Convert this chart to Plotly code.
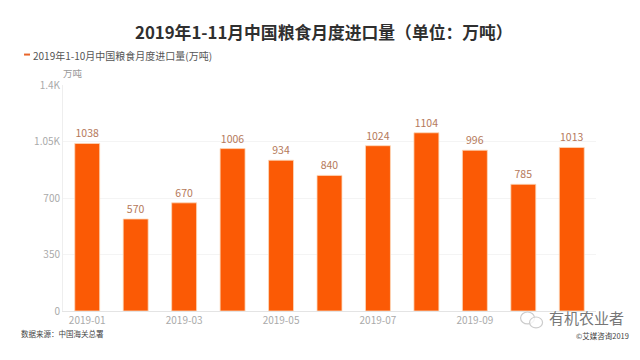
import plotly.graph_objects as go

CJK = "Noto Sans CJK SC"
months = ["2019-01","2019-02","2019-03","2019-04","2019-05","2019-06","2019-07","2019-08","2019-09","2019-10","2019-11"]
values = [1038,570,670,1006,934,840,1024,1104,996,785,1013]
tick_months = ["2019-01","2019-03","2019-05","2019-07","2019-09"]
y_ticks = [0,350,700,1050,1400]
y_labels = ["0","350","700","1.05K","1.4K"]
OFF = 8  # page body margin
W,H = 640-OFF,360-OFF
L,R,T,B = 63-OFF,596.5-OFF,84.5-OFF,311-OFF

def px(x): return (x-OFF-L)/(R-L)
def py(y): return (B-(y-OFF))/(B-T)

fig = go.Figure(go.Bar(
    x=months, y=values, width=0.515,
    marker=dict(color="#fb5a05", line=dict(color="#fbd9bd", width=0.8)),
    text=[str(v) for v in values], textposition="outside",
    textfont=dict(size=10.5, color="#b5795a", family=CJK), cliponaxis=False,
    showlegend=False))

def txt(x,y,s,size,color,anchor="left",weight=None):
    fig.add_annotation(xref="paper",yref="paper",x=px(x),y=py(y),text=s,showarrow=False,
        xanchor=anchor,yanchor="middle",font=dict(size=size,color=color,family=CJK,weight=weight),
        borderpad=0,borderwidth=0)

txt(324.5,31,"2019年1-11月中国粮食月度进口量（单位：万吨）",16.8,"#2f2f2f","center",700)
txt(33,54.5,"2019年1-10月中国粮食月度进口量(万吨)",10,"#555555")
txt(63,72.5,"万吨",9.5,"#999999")
txt(21,333.5,"数据来源：中国海关总署",7.5,"#444444")
txt(630,335.5,"©艾媒咨询2019",7.5,"#444444","right")
txt(549,318,"有机农业者",15,"#777777")

fig.add_shape(type="line",xref="paper",yref="paper",x0=px(24),x1=px(30),y0=py(54),y1=py(54),
    line=dict(color="#e8652a",width=2))
# watermark icon: two chat bubbles
fig.add_shape(type="circle",xref="paper",yref="paper",x0=px(521),x1=px(535),y0=py(324),y1=py(312),
    line=dict(color="#cccccc",width=1.2),fillcolor="rgba(255,255,255,0.8)")
fig.add_shape(type="circle",xref="paper",yref="paper",x0=px(530),x1=px(543),y0=py(328),y1=py(317),
    line=dict(color="#cccccc",width=1.2),fillcolor="rgba(255,255,255,0.8)")

fig.update_layout(width=W,height=H,autosize=False,paper_bgcolor="white",plot_bgcolor="white",
    margin=dict(l=L,r=W-R,t=T,b=H-B,pad=0),
    font=dict(family=CJK),
    xaxis=dict(type="category",categoryorder="array",categoryarray=months,tickmode="array",
        automargin=False,tickvals=tick_months,ticktext=tick_months,tickfont=dict(size=10,color="#aaaaaa"),
        showgrid=False,showline=True,linecolor="#e4e4e4",linewidth=1,ticks="",ticklen=0),
    yaxis=dict(range=[0,1400],tickmode="array",tickvals=y_ticks,ticktext=y_labels,automargin=False,
        tickfont=dict(size=10,color="#aaaaaa"),showgrid=True,gridcolor="#f4f4f4",gridwidth=1,
        zeroline=False,showline=True,linecolor="#eeeeee",linewidth=1,ticks=""))
fig.write_html("out.html")
